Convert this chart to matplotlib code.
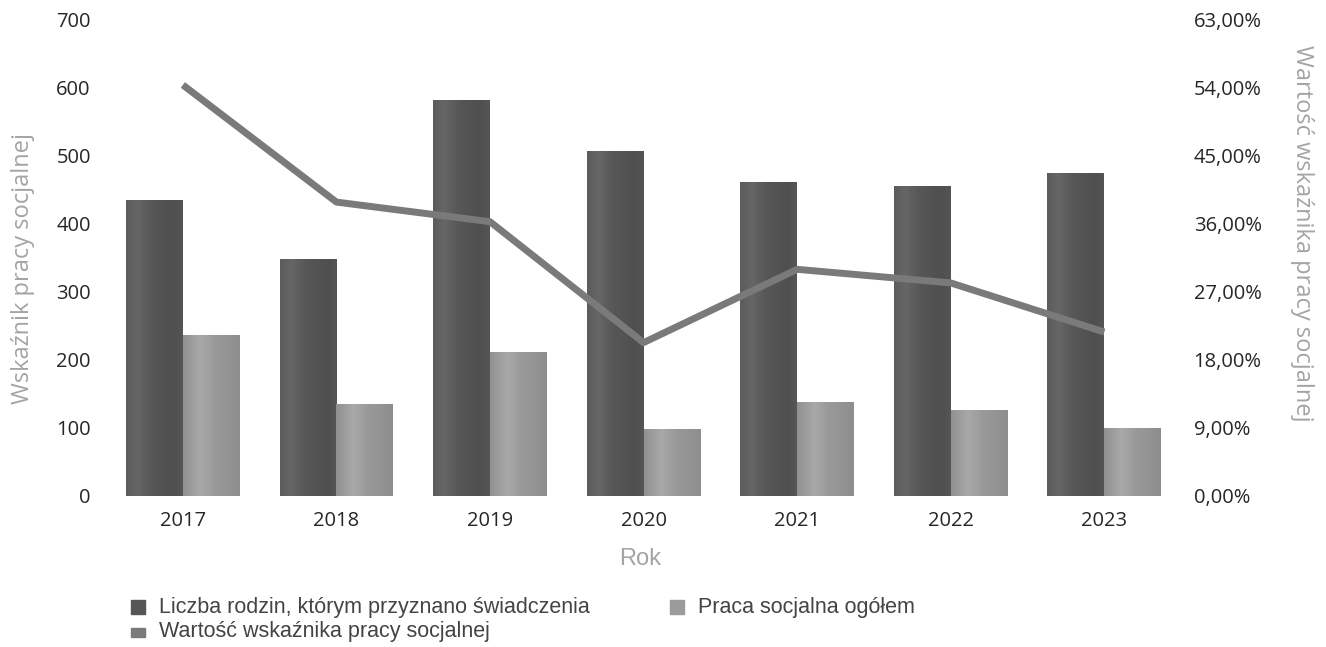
import matplotlib
matplotlib.use("Agg")
import matplotlib.pyplot as plt
import numpy as np
from matplotlib.patches import Rectangle
from matplotlib.colors import LinearSegmentedColormap
from matplotlib.ticker import FuncFormatter, MultipleLocator

years = ["2017", "2018", "2019", "2020", "2021", "2022", "2023"]
rodziny = [435, 348, 582, 508, 462, 456, 475]
praca = [237, 135, 212, 98, 138, 126, 100]
wskaznik = [54.4, 38.9, 36.3, 20.3, 30.0, 28.2, 21.7]
legend_labels = ["Liczba rodzin, którym przyznano świadczenia", "Praca socjalna ogółem",
                 "Wartość wskaźnika pracy socjalnej"]

dark = "#565656"
light = "#9b9b9b"
linec = "#7a7a7a"

cmap_dark = LinearSegmentedColormap.from_list(
    "d", [(0, "#5c5c5c"), (0.2, "#666666"), (0.45, "#575757"), (0.85, "#4f4f4f"), (1, "#555555")])
cmap_light = LinearSegmentedColormap.from_list(
    "l", [(0, "#919191"), (0.3, "#a9a9a9"), (0.55, "#9a9a9a"), (1, "#8e8e8e")])

fig = plt.figure(figsize=(13.26, 6.47), dpi=100)
ax = fig.add_axes([0.08, 0.2334, 0.8107, 0.7357])
x = np.arange(len(years))
w = 0.37
grad = np.linspace(0, 1, 64).reshape(1, -1)


def gradient_bars(bars, cmap):
    for b in bars:
        x0, y0 = b.get_x(), b.get_y()
        im = ax.imshow(grad, cmap=cmap, aspect="auto", zorder=2.1,
                       extent=(x0, x0 + b.get_width(), y0, y0 + b.get_height()),
                       interpolation="bilinear")
        im.set_clip_path(b)


b1 = ax.bar(x - w / 2, rodziny, width=w, color=dark, zorder=2)
b2 = ax.bar(x + w / 2, praca, width=w, color=light, zorder=2)
gradient_bars(b1, cmap_dark)
gradient_bars(b2, cmap_light)
ax.set_xlim(-0.5, len(years) - 0.5)
ax.set_ylim(0, 700)
ax.yaxis.set_major_locator(MultipleLocator(100))
ax.set_xticks(x)
ax.set_xticklabels(years)
for s in ax.spines.values():
    s.set_visible(False)
ax.tick_params(length=0)
ax.tick_params(axis="x", pad=11)
ax.tick_params(axis="y", pad=11)
for lab in ax.get_xticklabels() + ax.get_yticklabels():
    lab.set_fontfamily("Open Sans")
    lab.set_fontsize(14.5)
    lab.set_fontweight("medium")
    lab.set_color("#262626")

ax2 = ax.twinx()
ax2.plot(x, wskaznik, color=linec, lw=5, zorder=3, solid_capstyle="butt")
ax2.set_ylim(0, 63)
ax2.yaxis.set_major_locator(MultipleLocator(9))
ax2.yaxis.set_major_formatter(FuncFormatter(lambda v, p: f"{v:.2f}".replace(".", ",") + "%"))
for s in ax2.spines.values():
    s.set_visible(False)
ax2.tick_params(length=0, pad=9)
for lab in ax2.get_yticklabels():
    lab.set_fontfamily("Open Sans")
    lab.set_fontsize(14.5)
    lab.set_fontweight("medium")
    lab.set_color("#262626")

fig.text(0.017, 0.585, "Wskaźnik pracy socjalnej", rotation=90, ha="center", va="center",
         fontsize=17, color="#a4a4a4", family="Open Sans")
fig.text(0.982, 0.64, "Wartość wskaźnika pracy socjalnej", rotation=270, ha="center", va="center",
         fontsize=17, color="#a4a4a4", family="Open Sans")
fig.text(0.4827, 0.136, "Rok", ha="center", va="center", fontsize=17, color="#a4a4a4",
         family="Liberation Sans")

W, H = 1326.0, 647.0
entries = [
    (131, 607, 14, 14, dark, legend_labels[0]),
    (670, 607, 14, 14, light, legend_labels[1]),
    (131, 632, 14, 9, linec, legend_labels[2]),
]
for px, py, sw, sh, col, txt in entries:
    fig.add_artist(Rectangle((px / W, 1 - (py + sh / 2) / H), sw / W, sh / H,
                             transform=fig.transFigure, color=col))
    fig.text((px + sw + 14) / W, 1 - py / H, txt, ha="left", va="center",
             fontsize=15.5, color="#444444", family="Liberation Sans")

fig.savefig("out.png", dpi=100)
